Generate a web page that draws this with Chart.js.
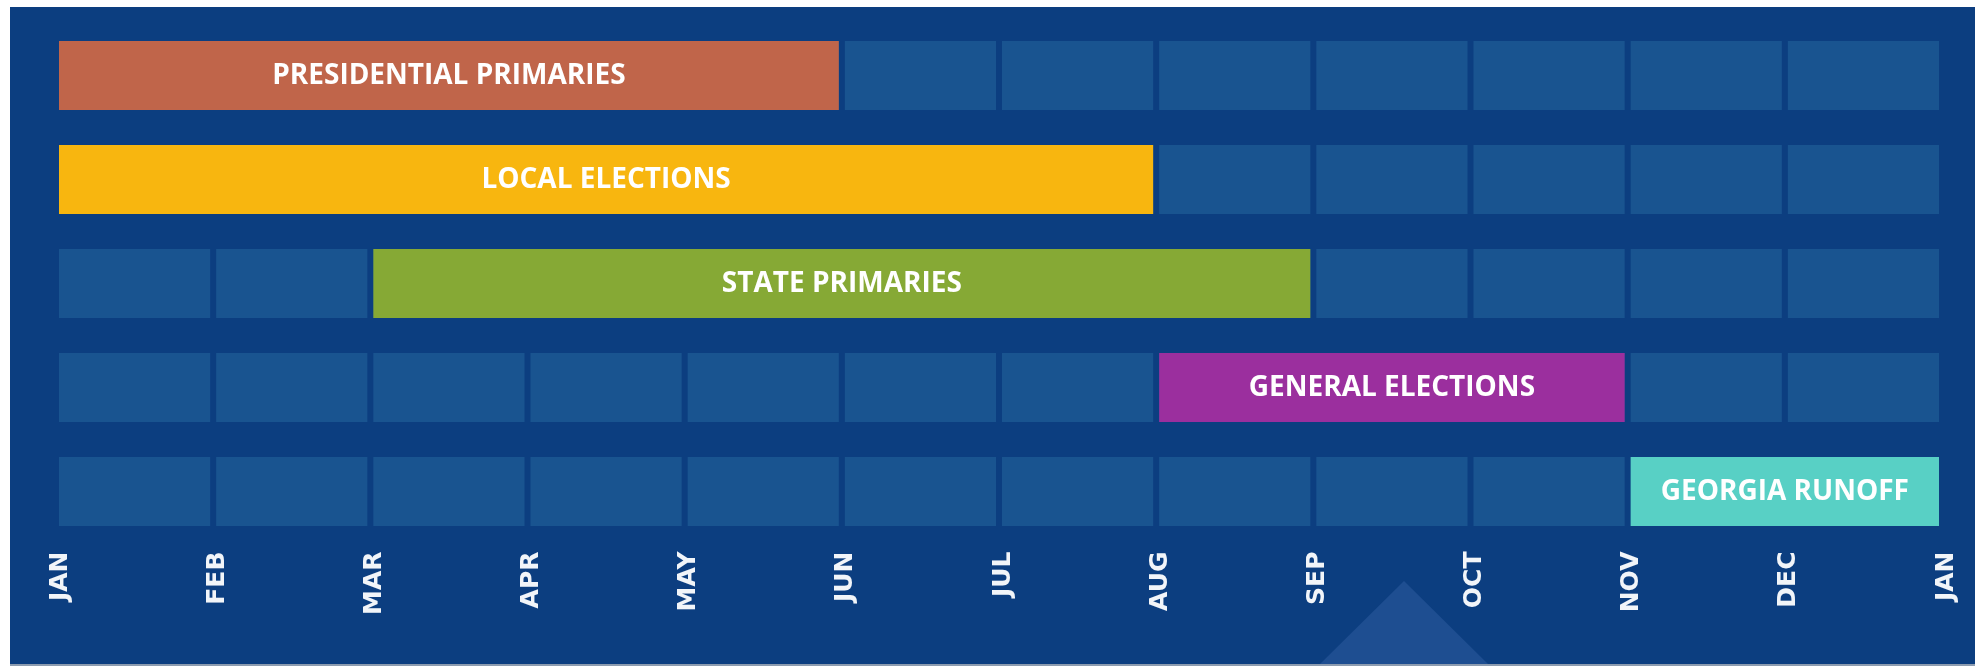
<!DOCTYPE html>
<html>
<head>
<meta charset="utf-8">
<title>Election Calendar</title>
<script src="https://cdn.jsdelivr.net/npm/chart.js@4.4.1/dist/chart.umd.min.js"></script>
<style>
  html, body { margin: 0; padding: 0; background: #ffffff; overflow: hidden; }
  #electionCalendarChart { display: block; }
</style>
</head>
<body>
<canvas id="electionCalendarChart" width="1975" height="666"></canvas>
<script>
// --- Chart data ---
const eventNames = ['PRESIDENTIAL PRIMARIES', 'LOCAL ELECTIONS', 'STATE PRIMARIES', 'GENERAL ELECTIONS', 'GEORGIA RUNOFF'];
const eventStartMonth = [0, 0, 2, 7, 10];   // index into monthLabels
const eventEndMonth = [5, 7, 8, 10, 12];
const eventColors = ['#c0654a', '#f8b60f', '#86a935', '#9b2f9e', '#58d0c5'];
const monthLabels = ['JAN', 'FEB', 'MAR', 'APR', 'MAY', 'JUN', 'JUL', 'AUG', 'SEP', 'OCT', 'NOV', 'DEC', 'JAN'];

const PANEL_COLOR = '#0c3e80';
const CELL_COLOR = '#195490';
const TRIANGLE_COLOR = '#1e4e91';
const TEXT_COLOR = '#f2f5f9';

document.addEventListener('DOMContentLoaded', function() {

    const ctx = document.getElementById('electionCalendarChart');

    // --- Panel background + decorative triangle ---
    const panelBackground = {
        id: 'panelBackground',
        beforeDraw(chart) {
            const c = chart.ctx;
            c.save();
            c.fillStyle = '#ffffff';
            c.fillRect(0, 0, chart.width, chart.height);
            c.fillStyle = PANEL_COLOR;
            c.fillRect(10, 7, chart.width - 10, 657);
            c.fillStyle = '#8d9cb0';
            c.fillRect(10, 664, chart.width - 10, 2);
            // triangle peeking up from the bottom edge
            c.beginPath();
            c.moveTo(1320, 664);
            c.lineTo(1404, 581);
            c.lineTo(1488, 664);
            c.closePath();
            c.fillStyle = TRIANGLE_COLOR;
            c.fill();
            c.restore();
        }
    };

    // --- Event names written inside the coloured bars ---
    const barLabels = {
        id: 'barLabels',
        afterDatasetsDraw(chart) {
            const meta = chart.getDatasetMeta(0);
            const c = chart.ctx;
            c.save();
            c.fillStyle = '#ffffff';
            c.font = 'bold 28px "Open Sans"';
            c.textAlign = 'center';
            c.textBaseline = 'middle';
            meta.data.forEach((bar, i) => {
                const p = bar.getProps(['x', 'base', 'y'], true);
                c.fillText(eventNames[i], (p.x + p.base) / 2, p.y + 1);
            });
            c.restore();
        }
    };

    // one dataset per month gives the grid of empty cells behind the events
    const cellDatasets = monthLabels.slice(0, -1).map((m, i) => ({
        label: m,
        data: eventNames.map(() => [i, i + 1]),
        backgroundColor: CELL_COLOR,
        order: 1
    }));

    new Chart(ctx, {
        type: 'bar',
        data: {
            labels: eventNames,
            datasets: [{
                label: 'Events',
                data: eventNames.map((n, i) => [eventStartMonth[i], eventEndMonth[i]]),
                backgroundColor: eventColors,
                order: 0
            }].concat(cellDatasets)
        },
        options: {
            indexAxis: 'y',
            responsive: false,
            animation: false,
            datasets: {
                bar: {
                    grouped: false,
                    categoryPercentage: 1,
                    barPercentage: 0.663,
                    borderWidth: { left: 3, right: 3, top: 0, bottom: 0 },
                    borderColor: 'rgba(0,0,0,0)',
                    borderSkipped: false
                }
            },
            layout: { padding: { left: 56, right: 33, top: 23.5, bottom: 0 } },
            plugins: {
                legend: { display: false },
                tooltip: { enabled: false }
            },
            scales: {
                y: { type: 'category', display: false },
                x: {
                    type: 'linear',
                    min: 0,
                    max: 12,
                    grid: { display: false },
                    border: { display: false },
                    ticks: {
                        stepSize: 1,
                        autoSkip: false,
                        minRotation: 90,
                        maxRotation: 90,
                        padding: 0,
                        labelOffset: 4,
                        color: TEXT_COLOR,
                        font: { family: '"DejaVu Sans"', size: 25, weight: 'bold' },
                        callback: (v) => monthLabels[v]
                    },
                    afterFit: (scale) => { scale.height = 122.5; }
                }
            }
        },
        plugins: [panelBackground, barLabels]
    });

}); // End DOMContentLoaded
</script>
</body>
</html>
